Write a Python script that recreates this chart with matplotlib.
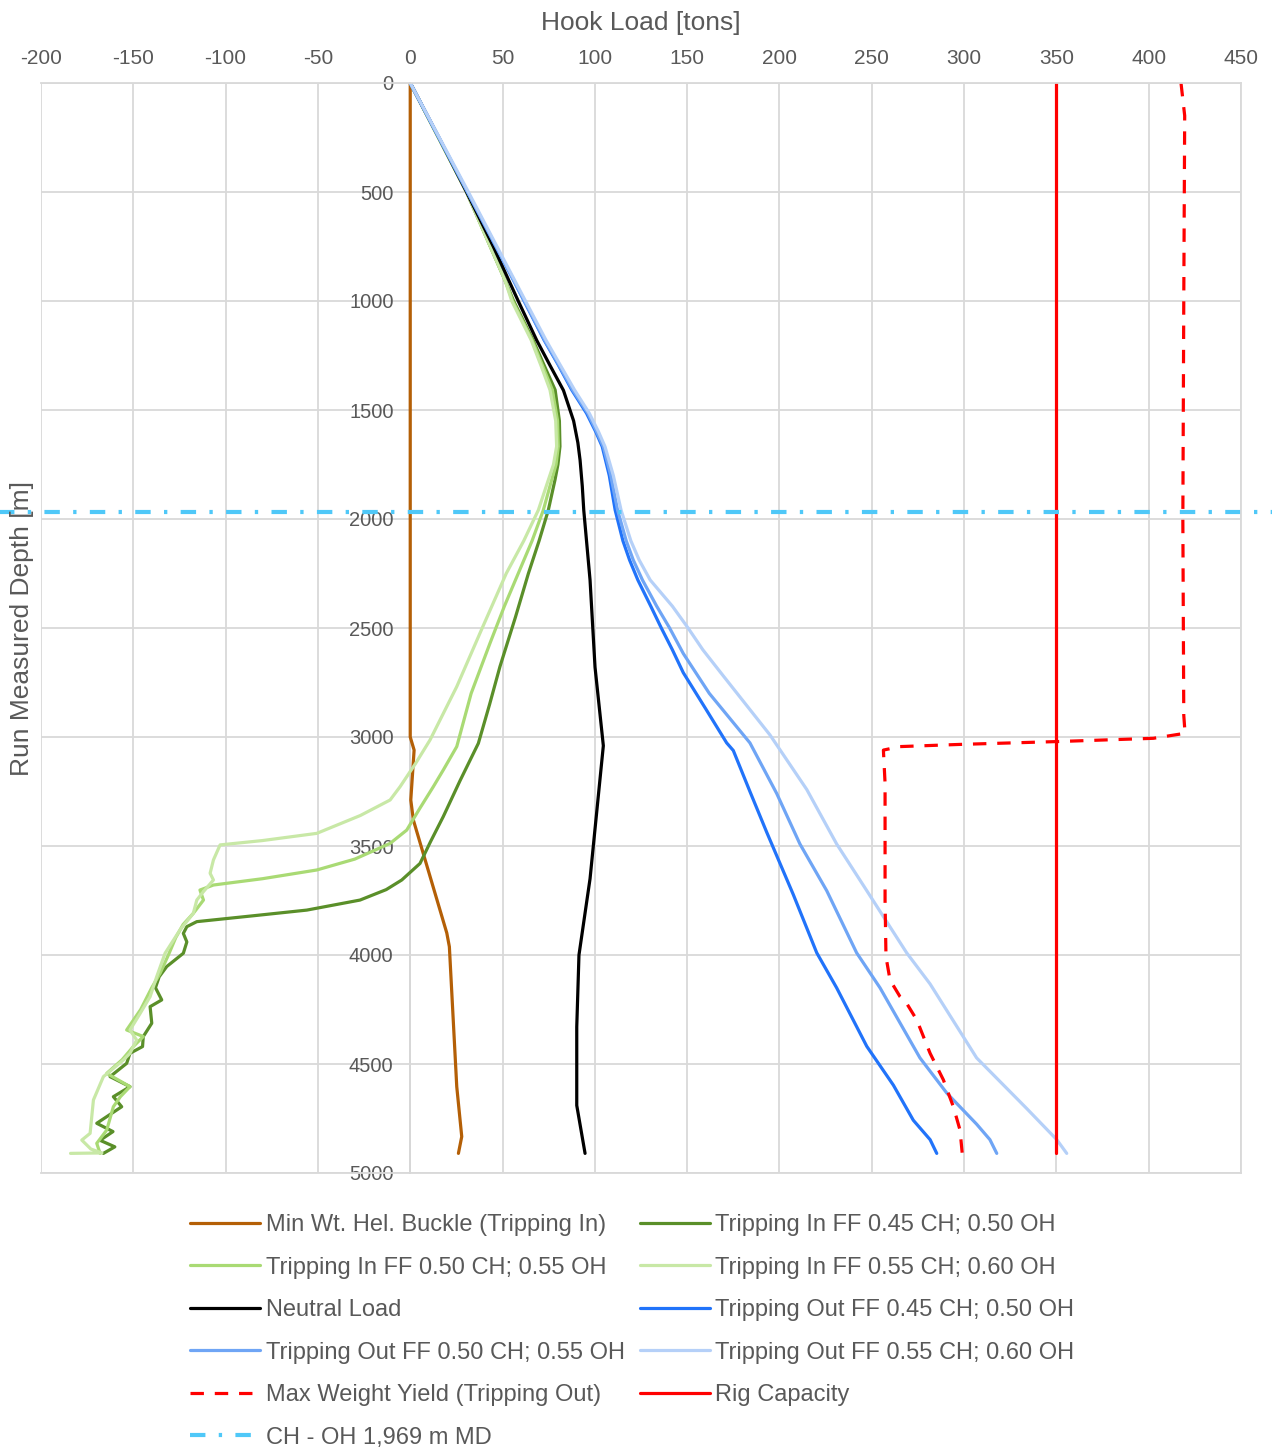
import matplotlib
matplotlib.use("Agg")
import matplotlib.pyplot as plt

plt.rcParams['font.family'] = ['Liberation Sans', 'DejaVu Sans']
plt.rcParams['axes.unicode_minus'] = False

# ---------------- data (depth in m, load in tons) ----------------
buckle_d = [0, 3000, 3060, 3289, 3381, 3899, 3962, 4604, 4833, 4910]
buckle_x = [0, 0, 2.1, 0.3, 1.7, 19.8, 21.2, 25.2, 27.9, 26.1]

ti45_d = [0, 500, 904, 1000, 1179, 1300, 1408, 1550, 1667, 1750, 1821, 1959, 2100, 2250, 2450, 2677, 2850, 3029,
          3200, 3365, 3480, 3580, 3656, 3700, 3748, 3794, 3820, 3847, 3870, 3901, 3940, 3992,
          4053, 4100, 4150, 4206, 4237, 4313, 4374, 4420, 4451, 4497, 4558, 4604, 4650, 4696,
          4772, 4810, 4850, 4880, 4910]
ti45_x = [0, 30.5, 51.3, 56, 66.5, 72.8, 78.5, 80.8, 81.1, 80, 78.4, 74.8, 69.8, 64, 57, 48.6, 43, 36.9,
          27, 17.9, 11, 5.3, -4.6, -13, -27.2, -56, -85, -115.6, -121, -122.9, -121, -122.9,
          -131.9, -136, -138, -134.6, -140.9, -140, -144.6, -145, -151.8, -153.6, -162.6, -151.8, -160.8, -156.3,
          -169.8, -161, -168, -160, -166.2]

ti50_d = [0, 500, 904, 1000, 1179, 1300, 1408, 1550, 1667, 1750, 1821, 1959, 2100, 2250, 2400, 2570, 2800, 3044,
          3150, 3228, 3330, 3427, 3488, 3560, 3610, 3650, 3679, 3702, 3748, 3809, 3860, 3920,
          4000, 4084, 4150, 4250, 4344, 4374, 4420, 4480, 4543, 4604, 4650, 4696, 4803, 4864, 4910]
ti50_x = [0, 30.5, 51.3, 55.5, 66, 71.8, 77, 79.8, 80.2, 79, 76.6, 72.1, 66, 58.5, 51, 43.2, 33, 25.2,
          18, 12.5, 5, -1.9, -10.9, -30, -50.6, -80, -106.6, -113.9, -112, -117.5, -123, -127,
          -131, -135.5, -140, -146, -153.6, -144.6, -150, -156, -164.4, -151.8, -157, -160.8, -164.4, -169.8, -168]

ti55_d = [0, 500, 904, 1000, 1179, 1300, 1408, 1550, 1667, 1750, 1821, 1959, 2100, 2250, 2500, 2769, 3014, 3120,
          3228, 3289, 3360, 3442, 3475, 3495, 3564, 3625, 3656, 3709, 3748, 3809, 3885, 3992,
          4099, 4191, 4268, 4344, 4390, 4451, 4482, 4558, 4665, 4818, 4849, 4890, 4908, 4910]
ti55_x = [0, 30.5, 51.3, 55, 65.5, 71, 75.7, 78.8, 79.3, 77.6, 74.8, 69.4, 61.5, 52, 39, 25.2, 10.7, 3,
          -5.5, -10.9, -27, -50.6, -80, -103, -106.6, -108.4, -106.6, -112, -115.6, -117.5, -124.7, -132.8,
          -137.3, -140.9, -146.3, -151.8, -148.2, -151.8, -155.4, -166.2, -171.6, -173.4, -177.9, -173, -167, -184]

neutral_d = [0, 250, 500, 750, 1000, 1180, 1300, 1410, 1550, 1650, 1730, 1850, 1960, 2280, 2680, 3040, 3650, 4000,
             4330, 4690, 4910]
neutral_x = [0, 15.5, 30.5, 45, 58.5, 68.5, 76, 83, 88.5, 90.8, 92, 93.2, 94, 97.4, 100.1, 104.6, 97.4, 91.4,
             90.2, 90.2, 94.7]

to45_d = [0, 500, 904, 1179, 1290, 1408, 1515, 1600, 1668, 1800, 1959, 2100, 2188, 2280, 2400, 2500, 2600, 2705,
          2870, 3027, 3062, 3250, 3437, 3723, 3990, 4151, 4419, 4597, 4758, 4847, 4910]
to45_x = [0, 31, 55.9, 72.5, 80, 87.5, 95.5, 100.5, 104, 107.8, 111, 115.2, 118.8, 123.3, 130.3, 136, 142, 147.9,
          160, 171.4, 175, 184, 193.1, 207.5, 220.2, 231, 247.3, 261.7, 272.5, 281.6, 285.2]

to50_d = [0, 500, 904, 1179, 1290, 1408, 1515, 1600, 1668, 1800, 1959, 2100, 2188, 2280, 2400, 2500, 2617,
          2800, 3027, 3259, 3491, 3705, 3990, 4151, 4472, 4633, 4776, 4847, 4910]
to50_x = [0, 31, 56, 72.8, 80.3, 88, 96.2, 101, 104.6, 108.6, 112.3, 117, 120.8, 125.8, 133.5, 140.5, 147.9,
          162, 184, 198.5, 211.1, 225.6, 241.8, 254.5, 276.1, 290.6, 306.8, 314, 317.7]

to55_d = [0, 500, 904, 1179, 1290, 1408, 1515, 1600, 1668, 1800, 1959, 2100, 2188, 2280, 2400, 2500, 2600, 2720,
          2991, 3241, 3491, 3705, 3990, 4133, 4472, 4704, 4847, 4910]
to55_x = [0, 31.5, 56.5, 73.5, 81, 89, 97, 102, 105.5, 110, 114.2, 119.5, 124, 130, 142, 150.5, 158.5, 169.6,
          194.9, 214.8, 231, 247.3, 268.9, 281.6, 306.8, 333.9, 350.2, 355.6]

yield_d = [0, 150, 1000, 2000, 2900, 2983, 3006, 3021, 3034, 3044, 3060, 3212, 3750, 4008, 4115,
           4191, 4222, 4298, 4451, 4573, 4696, 4803, 4910]
yield_x = [417.5, 419.5, 419, 418.5, 419, 419.7, 402.5, 350.2, 297.8, 265.3, 256.3, 257.2, 257.2, 257.7, 259.9,
           265.3, 268.9, 274.4, 281.6, 288.8, 294.2, 297.8, 299]

rig_d = [0, 4910]
rig_x = [350, 350]

choh_d = [1969, 1969]
choh_x = [-225, 470]

x_ticks = list(range(-200, 451, 50))
y_ticks = list(range(0, 5001, 500))

labels = ["Min Wt. Hel. Buckle (Tripping In)", "Tripping In FF 0.45 CH; 0.50 OH",
          "Tripping In FF 0.50 CH; 0.55 OH", "Tripping In FF 0.55 CH; 0.60 OH",
          "Neutral Load", "Tripping Out FF 0.45 CH; 0.50 OH",
          "Tripping Out FF 0.50 CH; 0.55 OH", "Tripping Out FF 0.55 CH; 0.60 OH",
          "Max Weight Yield (Tripping Out)", "Rig Capacity", "CH - OH 1,969 m MD"]

# ---------------- figure ----------------
W, H = 1272, 1452
fig = plt.figure(figsize=(W / 100, H / 100), dpi=100)
ax = fig.add_axes([41 / W, 1 - 1173 / H, 1200 / W, 1090 / H])

txt = '#595959'
grid_c = '#D9D9D9'
lw = 2.3

series = [
    (buckle_x, buckle_d, dict(color='#B45F06')),
    (ti45_x, ti45_d, dict(color='#5A8F29')),
    (ti50_x, ti50_d, dict(color='#A9DA74')),
    (ti55_x, ti55_d, dict(color='#C8E8A6')),
    (neutral_x, neutral_d, dict(color='#000000')),
    (to45_x, to45_d, dict(color='#2173FA')),
    (to50_x, to50_d, dict(color='#6FA5F5')),
    (to55_x, to55_d, dict(color='#B5D0F8')),
    (yield_x, yield_d, dict(color='#FF0000', dashes=(4.2, 3.4))),
    (rig_x, rig_d, dict(color='#FF0000')),
]
handles = []
for (x, d, kw), lab in zip(series, labels[:10]):
    ln, = ax.plot(x, d, lw=lw, solid_joinstyle='round', solid_capstyle='round', label=lab, **kw)
    handles.append(ln)
ch, = ax.plot(choh_x, choh_d, color='#4FC8F8', lw=3.0, dashes=(3.7, 3.2, 0.8, 3.2),
              label=labels[10], clip_on=False)
handles.append(ch)

ax.set_xlim(-200, 450)
ax.set_ylim(5000, 0)
ax.set_xticks(x_ticks)
ax.set_yticks(y_ticks)
ax.xaxis.tick_top()
ax.tick_params(axis='x', length=0, pad=11, labelsize=15, labelcolor=txt)
ax.tick_params(axis='y', length=0, pad=12, labelsize=14.5, labelcolor=txt)
ax.grid(True, color=grid_c, lw=1.3, zorder=0)
ax.set_axisbelow(True)
for s in ['top', 'bottom', 'right']:
    ax.spines[s].set_color(grid_c)
    ax.spines[s].set_linewidth(1.3)
ax.spines['left'].set_position(('data', 0))
ax.spines['left'].set_color('#BFBFBF')
ax.spines['left'].set_linewidth(1.3)
ax.spines['left'].set_zorder(0.5)

fig.text(641 / W, 1 - 23 / H, "Hook Load [tons]", ha='center', va='center', fontsize=19, color=txt)
fig.text(22 / W, 1 - 628 / H, "Run Measured Depth [m]", ha='center', va='center', rotation=90,
         fontsize=19, color=txt)

order = [0, 2, 4, 6, 8, 10, 1, 3, 5, 7, 9]
leg = ax.legend([handles[i] for i in order], [labels[i] for i in order], ncol=2,
                loc='upper left', bbox_to_anchor=(190 / W, 1 - 1214 / H), bbox_transform=fig.transFigure,
                frameon=False, borderpad=0, borderaxespad=0, fontsize=17, handlelength=2.95,
                handletextpad=0.25, columnspacing=0.65, labelspacing=0.87)
for t in leg.get_texts():
    t.set_color(txt)

fig.savefig("out.png", dpi=100)
